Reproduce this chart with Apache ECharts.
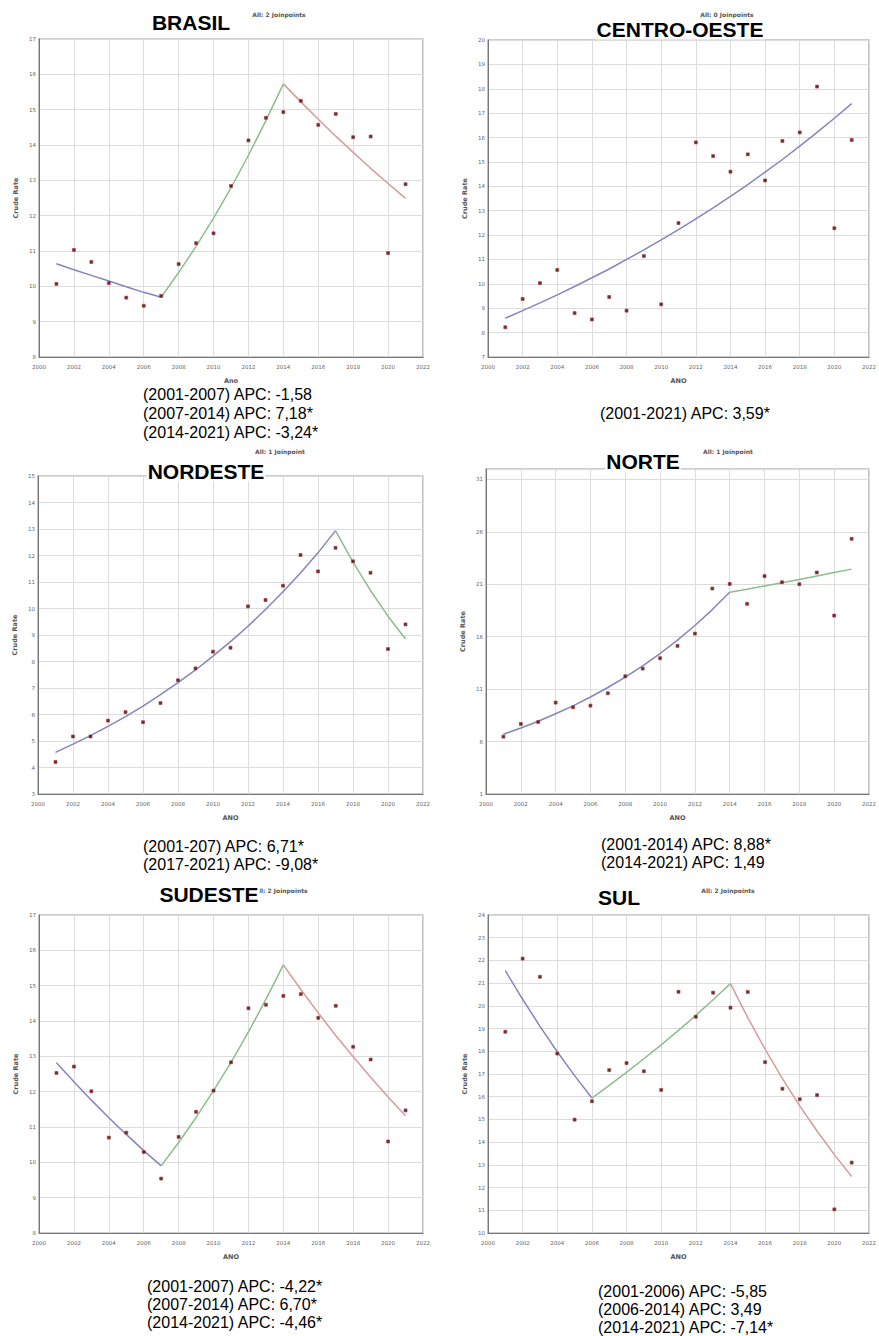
<!DOCTYPE html>
<html>
<head>
<meta charset="utf-8">
<script src="https://cdn.jsdelivr.net/npm/echarts@6/dist/echarts.min.js"></script>
<style>
html,body{margin:0;padding:0;background:#fff;}
#chart{width:879px;height:1336px;}
</style>
</head>
<body>
<div id="chart"></div>
<script>
// ---------- DATA ----------
var years = [2001,2002,2003,2004,2005,2006,2007,2008,2009,2010,2011,2012,2013,2014,2015,2016,2017,2018,2019,2020,2021];

var brasilObs = [10.07,11.03,10.69,10.09,9.68,9.45,9.73,10.63,11.22,11.50,12.84,14.13,14.77,14.93,15.25,14.57,14.88,14.22,14.24,10.94,12.89];
var brasilFit = [10.64,10.47,10.31,10.15,9.99,9.83,9.69,10.39,11.13,11.93,12.79,13.71,14.69,15.73,15.22,14.73,14.25,13.79,13.34,12.91,12.49];
var brasilSegs = [[2001,2007],[2007,2014],[2014,2021]];

var coObs = [8.22,9.38,10.03,10.57,8.80,8.54,9.46,8.90,11.14,9.16,12.49,15.80,15.24,14.60,15.31,14.24,15.86,16.21,18.09,12.28,15.90];
var coFit = [8.59,8.90,9.22,9.55,9.89,10.25,10.61,11.00,11.39,11.80,12.22,12.66,13.12,13.59,14.07,14.58,15.10,15.65,16.21,16.79,17.39];
var coSegs = [[2001,2021]];

var neObs = [4.21,5.17,5.17,5.77,6.09,5.71,6.43,7.29,7.74,8.37,8.52,10.08,10.32,10.86,12.02,11.40,12.29,11.78,11.35,8.47,9.40];
var neFit = [4.57,4.88,5.20,5.55,5.92,6.32,6.75,7.20,7.68,8.20,8.75,9.33,9.96,10.63,11.34,12.10,12.94,11.75,10.68,9.71,8.85];
var neSegs = [[2001,2017],[2017,2021]];

var noObs = [6.47,7.68,7.87,9.72,9.27,9.43,10.61,12.23,12.96,13.95,15.13,16.30,20.60,21.04,19.14,21.78,21.20,21.01,22.13,18.02,25.34];
var noFit = [6.70,7.29,7.94,8.65,9.41,10.25,11.16,12.15,13.23,14.40,15.68,17.07,18.59,20.24,20.54,20.85,21.16,21.47,21.79,22.12,22.45];
var noSegs = [[2001,2014],[2014,2021]];

var seObs = [12.53,12.71,12.01,10.70,10.84,10.29,9.54,10.72,11.43,12.03,12.83,14.36,14.46,14.71,14.76,14.09,14.43,13.27,12.91,10.59,11.47];
var seFit = [12.82,12.28,11.76,11.26,10.79,10.33,9.90,10.56,11.27,12.03,12.83,13.69,14.61,15.59,14.89,14.23,13.59,12.99,12.41,11.85,11.32];
var seSegs = [[2001,2007],[2007,2014],[2014,2021]];

var sulObs = [18.86,22.08,21.28,17.90,14.99,15.80,17.17,17.48,17.12,16.30,20.62,19.52,20.58,19.92,20.61,17.52,16.35,15.89,16.07,11.04,13.10];
var sulFit = [21.55,20.29,19.10,17.98,16.93,15.94,16.50,17.07,17.67,18.28,18.92,19.58,20.27,20.98,19.48,18.09,16.80,15.60,14.49,13.45,12.49];
var sulSegs = [[2001,2006],[2006,2014],[2014,2021]];

var titles = ['BRASIL','CENTRO-OESTE','NORDESTE','NORTE','SUDESTE','SUL'];
var joinTexts = ['All: 2 Joinpoints','All: 0 Joinpoints','All: 1 Joinpoint','All: 1 Joinpoint','All: 2 Joinpoints','All: 2 Joinpoints'];
var xNames = ['Ano','ANO','ANO','ANO','ANO','ANO'];
var yMins = [8,7,3,1,8,10];
var yMaxs = [17,20,15,32,17,24];
var yIntervals = [1,1,1,5,1,1];
var apcTexts = [
  ['(2001-2007) APC: -1,58','(2007-2014) APC: 7,18*','(2014-2021) APC: -3,24*'],
  ['(2001-2021) APC: 3,59*'],
  ['(2001-207) APC: 6,71*','(2017-2021) APC: -9,08*'],
  ['(2001-2014) APC: 8,88*','(2014-2021) APC: 1,49'],
  ['(2001-2007) APC: -4,22*','(2007-2014) APC: 6,70*','(2014-2021) APC: -4,46*'],
  ['(2001-2006) APC: -5,85','(2006-2014) APC: 3,49','(2014-2021) APC: -7,14*']
];

// ---------- LAYOUT ----------
var panels = [
  {obs:brasilObs, fit:brasilFit, segs:brasilSegs, grid:{left:39, top:39, width:384, height:318},
   title:[191,22], join:[279,14], apc:{x:143, y:[394,413,432]}},
  {obs:coObs, fit:coFit, segs:coSegs, grid:{left:488, top:40, width:385, height:317},
   title:[680,29], join:[727,14], apc:{x:600, y:[413]}},
  {obs:neObs, fit:neFit, segs:neSegs, grid:{left:38, top:476, width:385, height:318},
   title:[206,471], join:[280,451], apc:{x:143, y:[846,864]}},
  {obs:noObs, fit:noFit, segs:noSegs, grid:{left:486, top:469, width:387, height:325},
   title:[643,461], join:[728,451], apc:{x:601, y:[844,862]}},
  {obs:seObs, fit:seFit, segs:seSegs, grid:{left:39, top:915, width:384, height:318},
   title:[209,894], join:[281,890], apc:{x:147, y:[1286,1304,1322]}},
  {obs:sulObs, fit:sulFit, segs:sulSegs, grid:{left:488, top:915, width:384, height:318},
   title:[619,897], join:[728,890], apc:{x:598, y:[1291,1309,1327]}}
];
var segColors = ['#8585bd','#8dbd8d','#d89a9a'];
var segColors2 = ['#8585bd','#8dbd8d'];

var grids = [], xAxes = [], yAxes = [], series = [], graphics = [];
var SMALL = 'DejaVu Sans, sans-serif';
var MAIN = 'Liberation Sans, Arial, sans-serif';
function plain(v){ return String(v); }

panels.forEach(function(p, i){
  grids.push(Object.assign({show:true, borderColor:'#999', borderWidth:1.2, backgroundColor:'#fff'}, p.grid));
  xAxes.push({
    gridIndex:i, type:'value', min:2000, max:2022, interval:2,
    name:xNames[i], nameLocation:'middle', nameGap:20,
    nameTextStyle:{fontFamily:SMALL, fontWeight:'bold', fontSize:6.5, color:'#555'},
    axisLine:{show:true, lineStyle:{color:'#777', width:1}},
    axisTick:{show:false},
    axisLabel:{fontFamily:SMALL, fontSize:5.5, color:'#666', margin:7, formatter:plain},
    splitLine:{show:true, lineStyle:{color:'#dcdcdc', width:1}}
  });
  yAxes.push({
    gridIndex:i, type:'value', min:yMins[i], max:yMaxs[i], interval:yIntervals[i],
    name:'Crude Rate', nameLocation:'middle', nameGap:20, nameRotate:90,
    nameTextStyle:{fontFamily:SMALL, fontWeight:'bold', fontSize:6.5, color:'#555'},
    axisLine:{show:true, lineStyle:{color:'#777', width:1}},
    axisTick:{show:false},
    axisLabel:{fontFamily:SMALL, fontSize:5.5, color:'#666', margin:3, formatter:plain, showMaxLabel: yIntervals[i] === 1},
    splitLine:{show:true, lineStyle:{color:'#dcdcdc', width:1}}
  });
  var cols = p.segs.length === 3 ? segColors : (p.segs.length === 2 ? segColors2 : ['#8585bd']);
  p.segs.forEach(function(s, k){
    var d = [];
    years.forEach(function(y, j){ if (y >= s[0] && y <= s[1]) d.push([y, p.fit[j]]); });
    series.push({
      type:'line', xAxisIndex:i, yAxisIndex:i, data:d, showSymbol:false, symbol:'none',
      lineStyle:{color:cols[k], width:1.5}, silent:true, animation:false, z:3
    });
  });
  series.push({
    type:'scatter', xAxisIndex:i, yAxisIndex:i,
    data: years.map(function(y, j){ return [y, p.obs[j]]; }),
    symbol:'rect', symbolSize:3,
    itemStyle:{color:'#2a0606', borderColor:'#b03a3a', borderWidth:0.8},
    animation:false, z:4
  });
  graphics.push({
    type:'text', z:90, x:p.join[0], y:p.join[1],
    style:{text:joinTexts[i], fill:'#555555', font:'bold 6px ' + SMALL, textAlign:'center', textVerticalAlign:'middle'}
  });
  graphics.push({
    type:'text', z:100, x:p.title[0], y:p.title[1],
    style:{text:titles[i], fill:'#000', font:'bold 21px ' + MAIN, textAlign:'center', textVerticalAlign:'middle',
           backgroundColor:'#fff', padding:[0,1,0,1]}
  });
  apcTexts[i].forEach(function(t, k){
    graphics.push({
      type:'text', z:100, x:p.apc.x, y:p.apc.y[k],
      style:{text:t, fill:'#000', font:'16px ' + MAIN, textAlign:'left', textVerticalAlign:'middle'}
    });
  });
});

var chart = echarts.init(document.getElementById('chart'), null, {renderer:'svg', width:879, height:1336});
chart.setOption({
  backgroundColor:'#fff',
  animation:false,
  grid:grids, xAxis:xAxes, yAxis:yAxes, series:series, graphic:graphics
});
</script>
</body>
</html>
